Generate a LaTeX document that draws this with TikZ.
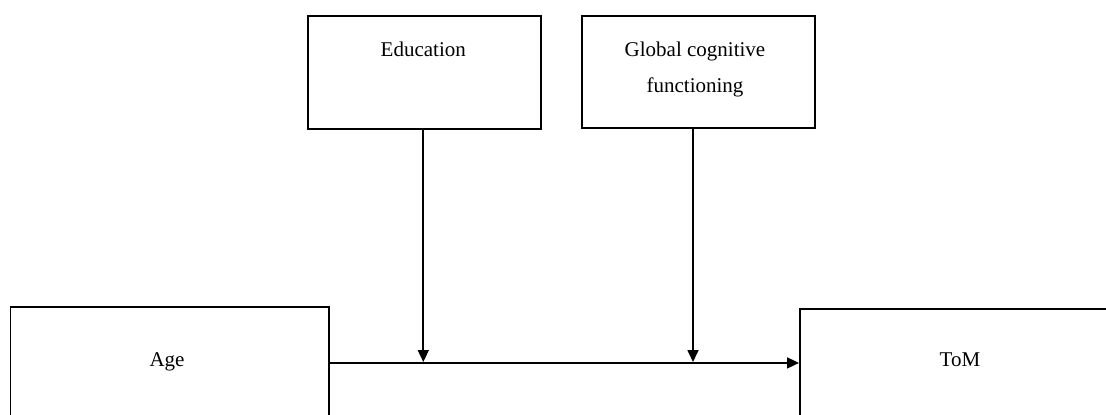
\documentclass[tikz,border=0pt]{standalone}
\usepackage{fontspec}
\setmainfont{Liberation Serif}
\usetikzlibrary{arrows.meta}
\begin{document}
\begin{tikzpicture}[x=1pt,y=-1pt,
  box/.style={draw=black,line width=1.9pt,rectangle,minimum width=#1,anchor=north west,inner sep=0pt},
  lbl/.style={font=\fontsize{21}{36}\selectfont,align=center,inner sep=0pt},
  conn/.style={line width=1.7pt,-{Triangle[length=12pt,width=11pt]}}]
\useasboundingbox (0,0) rectangle (1106,415);
\clip (0,0) rectangle (1106,415);
\node[box=233.3pt,minimum height=113pt] (edu) at (306.7,15) {};
\node[box=233pt,minimum height=112pt] (glob) at (581,15) {};
\node[box=318.5pt,minimum height=112pt] (age) at (9.5,306) {};
\node[box=330pt,minimum height=108pt] (tom) at (799,308) {};
\node[lbl,anchor=base] (edutxt) at (423.3,56) {Education};
\node[lbl,anchor=base] (globtxt) at (695,92) {Global cognitive\\functioning};
\node[lbl,anchor=base] (agetxt) at (167,366) {Age};
\node[lbl,anchor=base] (tomtxt) at (960,366) {ToM};
\coordinate (m1) at (423.3,362);
\coordinate (m2) at (693,362);
\draw[conn] (age.east) -- (tom.west);
\draw[conn] (edu.south -| m1) -- (m1);
\draw[conn] (glob.south -| m2) -- (m2);
\end{tikzpicture}
\end{document}
